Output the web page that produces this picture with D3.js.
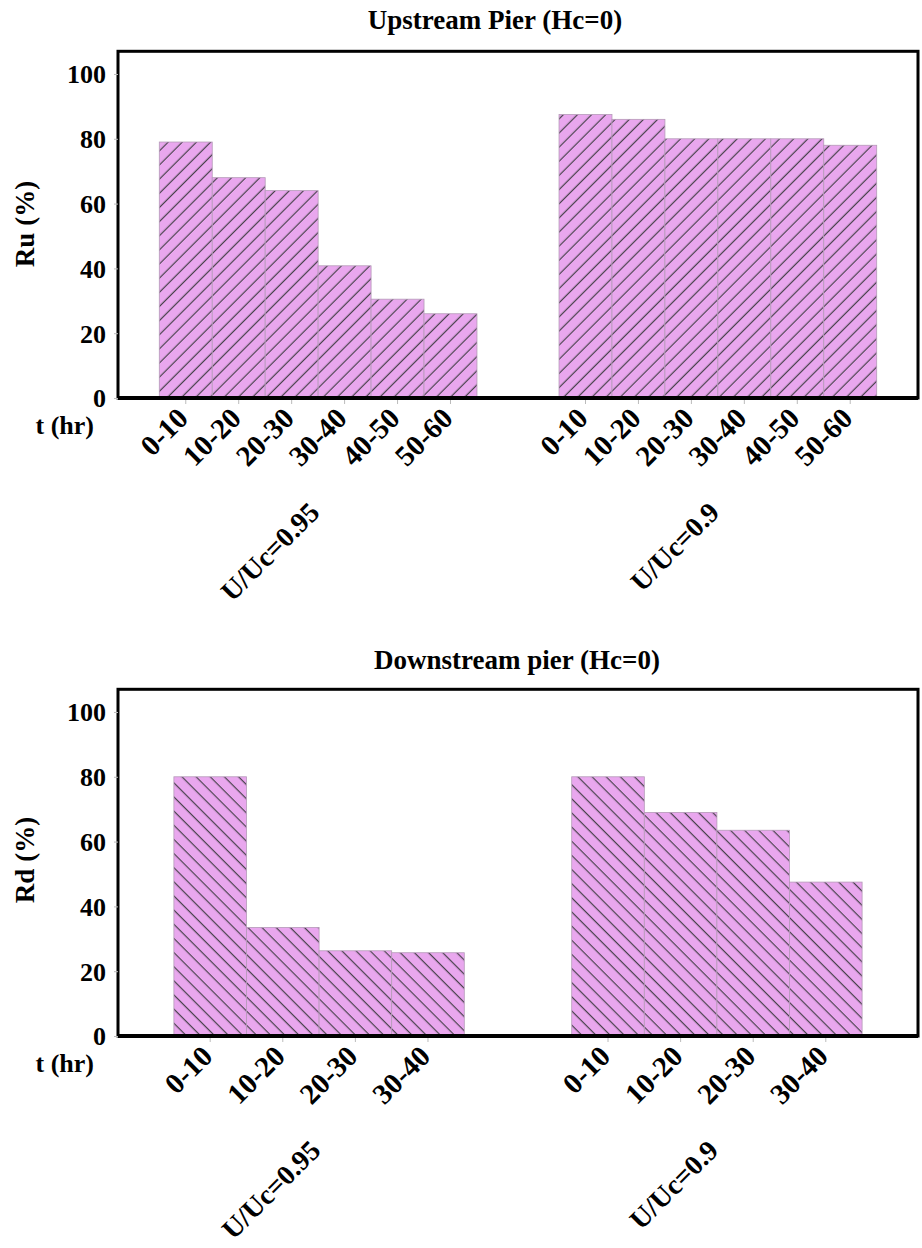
<!DOCTYPE html>
<html>
<head>
    <meta charset="utf-8" />
    <title>Upstream / downstream pier bars</title>
    <style>
        body { margin: 0; background: #fff; }
        text { font-family: "Liberation Serif", "Times New Roman", serif; font-weight: bold; fill: #000; }
    </style>
    <script src="https://cdn.jsdelivr.net/npm/d3@7"></script>
</head>
<body>
    <script>
        // data
        var groups = ['U/Uc=0.95', 'U/Uc=0.9'];
        var upTimes = ['0-10', '10-20', '20-30', '30-40', '40-50', '50-60'];
        var upValues95 = [79, 68, 64, 40.8, 30.5, 26];
        var upValues90 = [87.5, 86, 80, 80, 80, 78];
        var downTimes = ['0-10', '10-20', '20-30', '30-40'];
        var downValues95 = [80, 33.5, 26.3, 25.7];
        var downValues90 = [80, 69, 63.5, 47.5];
        var yTicks = [0, 20, 40, 60, 80, 100];

        var svg = d3.select('body').append('svg')
            .attr('width', 922)
            .attr('height', 1248);

        var defs = svg.append('defs');
        function hatch(id, angle) {
            var p = defs.append('pattern')
                .attr('id', id)
                .attr('patternUnits', 'userSpaceOnUse')
                .attr('width', 10).attr('height', 10)
                .attr('patternTransform', 'rotate(' + angle + ')');
            p.append('rect').attr('width', 10).attr('height', 10).attr('fill', '#e9a7ee');
            p.append('line').attr('x1', 0).attr('y1', 0).attr('x2', 0).attr('y2', 10)
                .attr('stroke', '#48424c').attr('stroke-width', 2.4);
        }
        hatch('hatchUp', -135);
        hatch('hatchDown', 135);

        // one panel: title, framed plot, two groups of bars
        function panel(opt) {
            var left = 118, right = 918;
            var n = opt.times.length;
            var units = 2 * opt.pad + 2 * n + opt.gap;
            var x = d3.scaleLinear().domain([0, units]).range([left, right]);
            var y = d3.scaleLinear().domain([0, 107]).range([opt.base, opt.base - 346.7]);
            var g = svg.append('g');

            var bars = [];
            [opt.v95, opt.v90].forEach(function(vals, gi) {
                vals.forEach(function(v, i) {
                    bars.push({ g: gi, i: i, t: opt.times[i], v: v, pos: opt.pad + gi * (n + opt.gap) + i });
                });
            });

            g.selectAll('rect.bar').data(bars).enter().append('rect')
                .attr('class', 'bar')
                .attr('x', function(d) { return x(d.pos); })
                .attr('width', x(1) - x(0))
                .attr('y', function(d) { return y(d.v); })
                .attr('height', function(d) { return y(0) - y(d.v); })
                .attr('fill', 'url(#' + opt.pattern + ')')
                .attr('stroke', '#b59ab8')
                .attr('stroke-width', 0.8);

            // frame
            g.append('rect')
                .attr('x', left).attr('y', y(107))
                .attr('width', right - left).attr('height', y(0) - y(107))
                .attr('fill', 'none').attr('stroke', '#000').attr('stroke-width', 3);
            g.append('line')
                .attr('x1', left).attr('x2', right)
                .attr('y1', y(0)).attr('y2', y(0))
                .attr('stroke', '#000').attr('stroke-width', 4);

            // y axis
            var ya = g.append('g').attr('transform', 'translate(' + left + ',0)')
                .call(d3.axisLeft(y).tickValues(yTicks).tickSize(4).tickPadding(8));
            ya.select('.domain').remove();
            ya.selectAll('line').attr('stroke', '#bbb');
            ya.selectAll('text').style('font-size', '26px')
                .style('font-family', '"Liberation Serif", serif').style('font-weight', 'bold')
                .attr('dy', '0.34em');

            // x ticks and rotated labels
            g.selectAll('line.xt').data(bars).enter().append('line')
                .attr('class', 'xt')
                .attr('x1', function(d) { return x(d.pos + 0.5); })
                .attr('x2', function(d) { return x(d.pos + 0.5); })
                .attr('y1', y(0) + 2).attr('y2', y(0) + 6)
                .attr('stroke', '#bbb');
            g.selectAll('text.xl').data(bars).enter().append('text')
                .attr('class', 'xl')
                .attr('text-anchor', 'end')
                .style('font-size', '29px')
                .attr('transform', function(d) {
                    return 'translate(' + (x(d.pos + 0.5) + 4) + ',' + (y(0) + 22) + ') rotate(-45)';
                })
                .text(function(d) { return d.t; });

            // group labels
            groups.forEach(function(name, gi) {
                var cx = x(opt.pad + gi * (n + opt.gap) + n / 2);
                g.append('text')
                    .attr('text-anchor', 'end')
                    .style('font-size', '28px')
                    .attr('transform', 'translate(' + (cx + 3) + ',' + (y(0) + 116) + ') rotate(-45)')
                    .text(name);
            });

            g.append('text')
                .attr('x', 94).attr('y', y(0) + 36)
                .attr('text-anchor', 'end')
                .style('font-size', '26px')
                .text('t (hr)');

            g.append('text')
                .attr('transform', 'translate(34,' + opt.labelY + ') rotate(-90)')
                .attr('text-anchor', 'middle')
                .style('font-size', '27px')
                .text(opt.yLabel);

            g.append('text')
                .attr('x', opt.titleX).attr('y', opt.titleY)
                .attr('text-anchor', 'middle')
                .style('font-size', '27px')
                .text(opt.title);
        }

        panel({
            title: 'Upstream Pier (Hc=0)', titleX: 495, titleY: 29,
            yLabel: 'Ru (%)', labelY: 224,
            times: upTimes, v95: upValues95, v90: upValues90,
            base: 398, pad: 0.78, gap: 1.55, pattern: 'hatchUp'
        });

        panel({
            title: 'Downstream pier (Hc=0)', titleX: 517, titleY: 669,
            yLabel: 'Rd (%)', labelY: 860,
            times: downTimes, v95: downValues95, v90: downValues90,
            base: 1036, pad: 0.77, gap: 1.48, pattern: 'hatchDown'
        });
    </script>
</body>
</html>
